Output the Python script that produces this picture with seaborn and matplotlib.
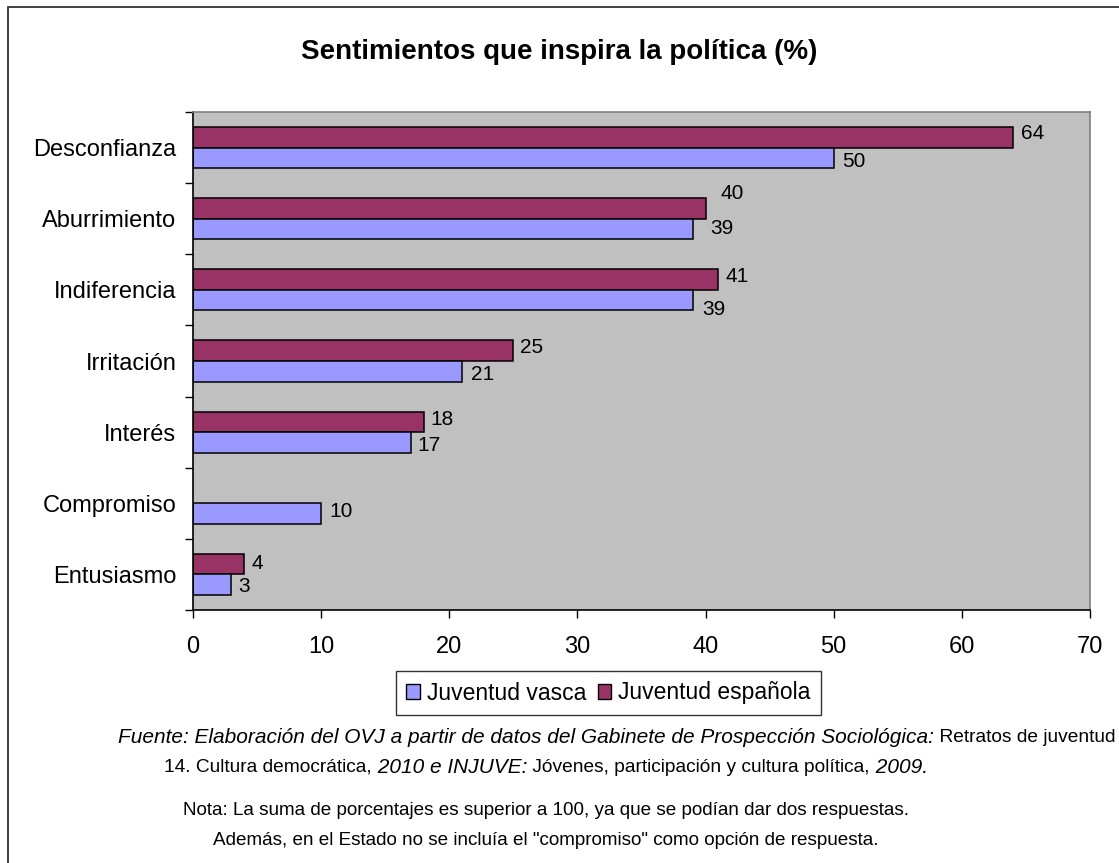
import numpy as np
import pandas as pd
import matplotlib
matplotlib.use("Agg")
import matplotlib.pyplot as plt
import seaborn as sns
from matplotlib.patches import Patch, Rectangle

# data
categorias = ["Desconfianza", "Aburrimiento", "Indiferencia", "Irritación",
              "Interés", "Compromiso", "Entusiasmo"]
vasca = [50, 39, 39, 21, 17, 10, 3]
espanola = [64, 40, 41, 25, 18, np.nan, 4]
series = ["Juventud vasca", "Juventud española"]
xticks = [0, 10, 20, 30, 40, 50, 60, 70]

titulo = "Sentimientos que inspira la política (%)"
fuente1 = [("Fuente: Elaboración del OVJ a partir de datos del Gabinete de Prospección Sociológica:", "italic"),
           (" Retratos de juventud", "normal")]
fuente2 = [("14. Cultura democrática,", "normal"), (" 2010 e INJUVE:", "italic"),
           (" Jóvenes, participación y cultura política,", "normal"), (" 2009.", "italic")]
nota1 = "Nota: La suma de porcentajes es superior a 100, ya que se podían dar dos respuestas."
nota2 = "Además, en el Estado no se incluía el \"compromiso\" como opción de respuesta."

colores = {"Juventud vasca": "#9999FF", "Juventud española": "#993366"}

# manual nudges of the value labels in pixels (dx right, dy down), as in the original
nudges = {("Desconfianza", "Juventud española"): (1, -4),
          ("Desconfianza", "Juventud vasca"): (1, 4),
          ("Aburrimiento", "Juventud española"): (8, -15),
          ("Aburrimiento", "Juventud vasca"): (10, -1),
          ("Indiferencia", "Juventud española"): (0, -3),
          ("Indiferencia", "Juventud vasca"): (2, 9),
          ("Irritación", "Juventud española"): (0, -3),
          ("Irritación", "Juventud vasca"): (2, 3),
          ("Interés", "Juventud española"): (0, -2),
          ("Interés", "Juventud vasca"): (0, 3),
          ("Compromiso", "Juventud vasca"): (1, -2),
          ("Entusiasmo", "Juventud española"): (0, -1),
          ("Entusiasmo", "Juventud vasca"): (0, 2)}

df = pd.DataFrame({"categoria": categorias * 2,
                   "serie": ["Juventud vasca"] * len(vasca) + ["Juventud española"] * len(espanola),
                   "valor": vasca + espanola})

sns.set_style("white")
plt.rcParams['font.family'] = ['Liberation Sans', 'DejaVu Sans']
plt.rcParams['text.color'] = 'black'
plt.rcParams['xtick.color'] = 'black'
plt.rcParams['ytick.color'] = 'black'

W, H = 1119, 863
fig = plt.figure(figsize=(W / 100, H / 100), dpi=100)
ax = fig.add_axes([193 / W, 1 - 610 / H, (1090 - 193) / W, (610 - 112) / H])

sns.barplot(data=df, x="valor", y="categoria", hue="serie", order=categorias,
            hue_order=["Juventud española", "Juventud vasca"], palette=colores,
            orient="h", width=0.58, saturation=1, edgecolor="black", linewidth=1.1,
            errorbar=None, legend=False, ax=ax)
ax.set_facecolor("#C0C0C0")
ax.set_xlim(0, 70)
ax.set_ylim(len(categorias) - 0.5, -0.5)
ax.set_xticks(xticks)
ax.set_xlabel("")
ax.set_ylabel("")
ax.tick_params(axis="x", labelsize=17, length=6, width=1, color="black", pad=13, direction="out", bottom=True)
ax.set_yticks(range(len(categorias)))
ax.set_yticklabels(categorias)
ax.tick_params(axis="y", which="major", labelsize=17, length=0, pad=12)
ax.set_yticks(np.arange(-0.5, len(categorias), 1), minor=True)
ax.tick_params(axis="y", which="minor", length=6, width=1, color="black", left=True, direction="out")
for s in ["left", "bottom"]:
    ax.spines[s].set_color("black")
    ax.spines[s].set_linewidth(1.2)
for s in ["top", "right"]:
    ax.spines[s].set_color("#808080")
    ax.spines[s].set_linewidth(1.2)

# value labels, category taken from the bar's position
for cont, serie in zip(ax.containers, ["Juventud española", "Juventud vasca"]):
    for bar in cont:
        v = bar.get_width()
        if np.isnan(v):
            continue
        cat = categorias[int(round(bar.get_y() + bar.get_height() / 2))]
        dx, dy = nudges.get((cat, serie), (0, 0))
        ax.annotate(f"{v:g}", (v, bar.get_y() + bar.get_height() / 2),
                    xytext=((7 + dx) * 0.72, -dy * 0.72), textcoords="offset points",
                    ha="left", va="center", fontsize=15, color="black")

fig.text(0.5, 1 - 52 / H, titulo, ha="center", va="center", fontsize=20, fontweight="bold")

handles = [Patch(facecolor=colores[s], edgecolor="black", linewidth=1) for s in series]
leg = fig.legend(handles, series, loc="center", bbox_to_anchor=(608.5 / W, 1 - 693 / H), ncol=2,
                 fontsize=16.5, frameon=True, fancybox=False, handlelength=0.6, handleheight=0.6,
                 handletextpad=0.3, columnspacing=0.5, borderpad=0.45, edgecolor="black")
leg.get_frame().set_linewidth(1)

# footnotes with mixed styles
renderer = fig.canvas.get_renderer()


def draw_line(parts, y, x_left=None, x_center=None):
    widths = []
    for txt, st in parts:
        size = 15 if st == "italic" else 13.8
        t = fig.text(0, 0, txt, fontsize=size, style=st)
        widths.append(t.get_window_extent(renderer).width)
        t.remove()
    x = x_left if x_left is not None else x_center - sum(widths) / 2
    for (txt, st), w in zip(parts, widths):
        size = 15 if st == "italic" else 13.8
        fig.text(x / W, 1 - y / H, txt, fontsize=size, style=st, va="center", ha="left")
        x += w


draw_line(fuente1, 737, x_left=118)
draw_line(fuente2, 767, x_center=546)
fig.text(546 / W, 1 - 810 / H, nota1, ha="center", va="center", fontsize=13.6)
fig.text(546 / W, 1 - 840 / H, nota2, ha="center", va="center", fontsize=13.6)

# outer chart frame
fig.add_artist(Rectangle((8 / W, -0.05), 1.2, 1 - 7 / H + 0.05, transform=fig.transFigure,
                         fill=False, edgecolor="#333333", linewidth=1.3))

fig.savefig("out.png", dpi=100)
